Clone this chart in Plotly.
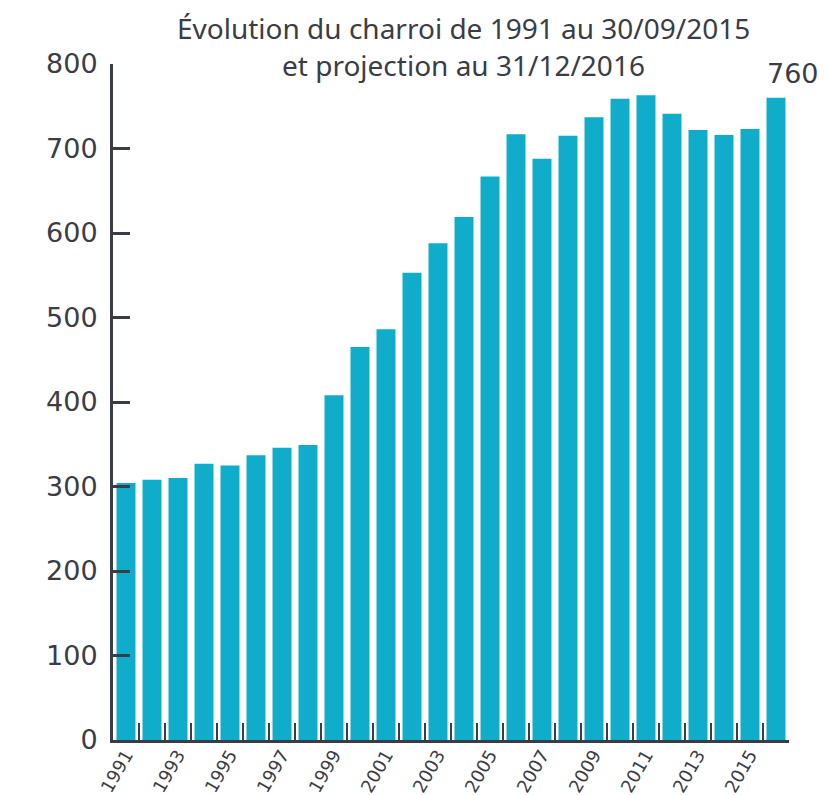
import plotly.graph_objects as go

# Charroi (nombre de véhicules) par année, 2016 = projection
years = list(range(1991, 2017))
vehicles = [304, 308, 310, 327, 325, 337, 346, 349, 408, 465,
            486, 553, 588, 619, 667, 717, 688, 715, 737, 759,
            763, 741, 722, 716, 723, 760]
label_years = [y for y in years if y % 2 == 1]
y_ticks = [0, 100, 200, 300, 400, 500, 600, 700, 800]
title_lines = ["Évolution du charroi de 1991 au 30/09/2015",
               "et projection au 31/12/2016"]

BAR = "#10adca"
INK = "#3a3d45"
TICK_FONT = "DejaVu Sans"

fig = go.Figure()
fig.add_trace(go.Bar(
    x=years, y=vehicles,
    marker=dict(color=BAR, line=dict(width=0)),
    hoverinfo="x+y",
))
# invisible trace so the label axis gets drawn
fig.add_trace(go.Scatter(
    x=[years[0], years[-1]], y=[0, 0], xaxis="x2",
    mode="markers", marker=dict(opacity=0), hoverinfo="skip",
))

# Label on the projected value
fig.add_annotation(
    x=years[-1], y=vehicles[-1], text=str(vehicles[-1]),
    showarrow=False, xanchor="center", yanchor="bottom",
    xshift=17, yshift=7,
    font=dict(family=TICK_FONT, size=27, color=INK),
)

# Title, one annotation per line
for text, ypos in zip(title_lines, [1.053, 0.998]):
    fig.add_annotation(
        text=text, xref="paper", yref="paper", x=0.519, y=ypos,
        xanchor="center", yanchor="middle", showarrow=False,
        font=dict(family="Noto Sans", size=28, color=INK),
    )

x_range = [years[0] - 0.5, years[-1] + 0.5]
boundaries = [y - 0.5 for y in years] + [years[-1] + 0.5]

# page body adds ~8px, so the figure is a bit smaller than the window
fig.update_layout(
    width=820, height=787,
    margin=dict(l=105, r=39, t=56, b=55, autoexpand=False),
    plot_bgcolor="white", paper_bgcolor="white",
    bargap=0.27,
    showlegend=False,
    xaxis=dict(
        range=x_range, automargin=False,
        tickvals=boundaries, ticktext=[""] * len(boundaries),
        ticks="inside", ticklen=17, tickwidth=2, tickcolor=INK,
        showline=True, linecolor=INK, linewidth=3,
        showgrid=False, zeroline=False,
    ),
    xaxis2=dict(
        overlaying="x", side="bottom", range=x_range, automargin=False,
        tickvals=label_years, ticktext=[str(y) for y in label_years],
        tickangle=-60, ticks="",
        showline=False, showgrid=False, zeroline=False,
        tickfont=dict(family=TICK_FONT, size=18, color=INK),
        ticklabelstandoff=0,
    ),
    yaxis=dict(
        range=[0, 800], automargin=False,
        tickvals=y_ticks,
        ticks="inside", ticklen=17, tickwidth=3, tickcolor=INK,
        showline=True, linecolor=INK, linewidth=3,
        showgrid=False, zeroline=False,
        tickfont=dict(family=TICK_FONT, size=27, color=INK),
        ticklabelstandoff=7,
    ),
)

fig.write_html("out.html")
